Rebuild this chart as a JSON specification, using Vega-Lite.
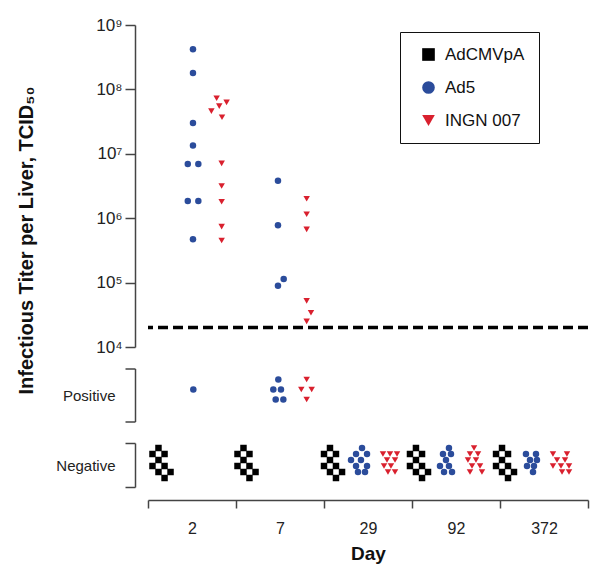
{
  "$schema": "https://vega.github.io/schema/vega-lite/v6.json",
  "padding": {"left": 15, "top": 16, "right": 6, "bottom": 5},
  "bounds": "flush",
  "spacing": 21.5,
  "config": {
    "view": {"stroke": null},
    "font": "Liberation Sans",
    "axis": {"domainColor": "#444", "domainWidth": 1.5, "tickColor": "#444", "tickWidth": 1.5, "tickSize": 10, "labelColor": "#222", "grid": false, "labelFont": "Liberation Sans", "titleFont": "Liberation Sans", "titleColor": "#111"},
    "point": {"filled": true, "size": 42, "opacity": 1, "strokeWidth": 0},
    "legend": {"strokeColor": "#111", "padding": 14, "rowPadding": 15, "symbolSize": 160, "labelFontSize": 17, "labelColor": "#111", "symbolStrokeWidth": 0, "labelOffset": 8, "symbolOffset": 6, "labelFont": "Liberation Sans"}
  },
  "datasets": {
    "titer": [
      {"day": "2", "series": "Ad5", "titer": 420000000, "xo": 0.511},
      {"day": "2", "series": "Ad5", "titer": 180000000, "xo": 0.511},
      {"day": "2", "series": "Ad5", "titer": 30000000, "xo": 0.511},
      {"day": "2", "series": "Ad5", "titer": 13400000, "xo": 0.511},
      {"day": "2", "series": "Ad5", "titer": 6950000, "xo": 0.452},
      {"day": "2", "series": "Ad5", "titer": 6950000, "xo": 0.572},
      {"day": "2", "series": "Ad5", "titer": 1850000, "xo": 0.452},
      {"day": "2", "series": "Ad5", "titer": 1850000, "xo": 0.572},
      {"day": "2", "series": "Ad5", "titer": 470000, "xo": 0.511},
      {"day": "2", "series": "INGN 007", "titer": 73000000, "xo": 0.78},
      {"day": "2", "series": "INGN 007", "titer": 63000000, "xo": 0.893},
      {"day": "2", "series": "INGN 007", "titer": 55000000, "xo": 0.81},
      {"day": "2", "series": "INGN 007", "titer": 46000000, "xo": 0.72},
      {"day": "2", "series": "INGN 007", "titer": 37000000, "xo": 0.841},
      {"day": "2", "series": "INGN 007", "titer": 7100000, "xo": 0.837},
      {"day": "2", "series": "INGN 007", "titer": 3160000, "xo": 0.837},
      {"day": "2", "series": "INGN 007", "titer": 1800000, "xo": 0.837},
      {"day": "2", "series": "INGN 007", "titer": 740000, "xo": 0.837},
      {"day": "2", "series": "INGN 007", "titer": 450000, "xo": 0.837},
      {"day": "7", "series": "Ad5", "titer": 3800000, "xo": 0.477},
      {"day": "7", "series": "Ad5", "titer": 780000, "xo": 0.477},
      {"day": "7", "series": "Ad5", "titer": 114000, "xo": 0.542},
      {"day": "7", "series": "Ad5", "titer": 89500, "xo": 0.477},
      {"day": "7", "series": "INGN 007", "titer": 2000000, "xo": 0.803},
      {"day": "7", "series": "INGN 007", "titer": 1150000, "xo": 0.803},
      {"day": "7", "series": "INGN 007", "titer": 670000, "xo": 0.803},
      {"day": "7", "series": "INGN 007", "titer": 52000, "xo": 0.803},
      {"day": "7", "series": "INGN 007", "titer": 34000, "xo": 0.852},
      {"day": "7", "series": "INGN 007", "titer": 25000, "xo": 0.803}
    ],
    "positive": [
      {"day": "2", "series": "Ad5", "status": "Positive", "xo": 0.515, "row": 1},
      {"day": "7", "series": "Ad5", "status": "Positive", "xo": 0.481, "row": 0},
      {"day": "7", "series": "Ad5", "status": "Positive", "xo": 0.424, "row": 1},
      {"day": "7", "series": "Ad5", "status": "Positive", "xo": 0.511, "row": 1},
      {"day": "7", "series": "Ad5", "status": "Positive", "xo": 0.451, "row": 2},
      {"day": "7", "series": "Ad5", "status": "Positive", "xo": 0.538, "row": 2},
      {"day": "7", "series": "INGN 007", "status": "Positive", "xo": 0.803, "row": 0},
      {"day": "7", "series": "INGN 007", "status": "Positive", "xo": 0.742, "row": 1},
      {"day": "7", "series": "INGN 007", "status": "Positive", "xo": 0.86, "row": 1},
      {"day": "7", "series": "INGN 007", "status": "Positive", "xo": 0.803, "row": 2}
    ],
    "negative": [
      {"day": "2", "series": "AdCMVpA", "status": "Negative", "xo": 0.119, "row": 0},
      {"day": "2", "series": "AdCMVpA", "status": "Negative", "xo": 0.051, "row": 1},
      {"day": "2", "series": "AdCMVpA", "status": "Negative", "xo": 0.188, "row": 1},
      {"day": "2", "series": "AdCMVpA", "status": "Negative", "xo": 0.119, "row": 2},
      {"day": "2", "series": "AdCMVpA", "status": "Negative", "xo": 0.051, "row": 3},
      {"day": "2", "series": "AdCMVpA", "status": "Negative", "xo": 0.188, "row": 3},
      {"day": "2", "series": "AdCMVpA", "status": "Negative", "xo": 0.119, "row": 4},
      {"day": "2", "series": "AdCMVpA", "status": "Negative", "xo": 0.256, "row": 4},
      {"day": "2", "series": "AdCMVpA", "status": "Negative", "xo": 0.188, "row": 5},
      {"day": "7", "series": "AdCMVpA", "status": "Negative", "xo": 0.085, "row": 0},
      {"day": "7", "series": "AdCMVpA", "status": "Negative", "xo": 0.017, "row": 1},
      {"day": "7", "series": "AdCMVpA", "status": "Negative", "xo": 0.153, "row": 1},
      {"day": "7", "series": "AdCMVpA", "status": "Negative", "xo": 0.085, "row": 2},
      {"day": "7", "series": "AdCMVpA", "status": "Negative", "xo": 0.017, "row": 3},
      {"day": "7", "series": "AdCMVpA", "status": "Negative", "xo": 0.153, "row": 3},
      {"day": "7", "series": "AdCMVpA", "status": "Negative", "xo": 0.085, "row": 4},
      {"day": "7", "series": "AdCMVpA", "status": "Negative", "xo": 0.222, "row": 4},
      {"day": "7", "series": "AdCMVpA", "status": "Negative", "xo": 0.153, "row": 5},
      {"day": "29", "series": "AdCMVpA", "status": "Negative", "xo": 0.068, "row": 0},
      {"day": "29", "series": "AdCMVpA", "status": "Negative", "xo": 0.0, "row": 1},
      {"day": "29", "series": "AdCMVpA", "status": "Negative", "xo": 0.136, "row": 1},
      {"day": "29", "series": "AdCMVpA", "status": "Negative", "xo": 0.068, "row": 2},
      {"day": "29", "series": "AdCMVpA", "status": "Negative", "xo": 0.0, "row": 3},
      {"day": "29", "series": "AdCMVpA", "status": "Negative", "xo": 0.136, "row": 3},
      {"day": "29", "series": "AdCMVpA", "status": "Negative", "xo": 0.068, "row": 4},
      {"day": "29", "series": "AdCMVpA", "status": "Negative", "xo": 0.205, "row": 4},
      {"day": "29", "series": "AdCMVpA", "status": "Negative", "xo": 0.136, "row": 5},
      {"day": "92", "series": "AdCMVpA", "status": "Negative", "xo": 0.045, "row": 0},
      {"day": "92", "series": "AdCMVpA", "status": "Negative", "xo": -0.023, "row": 1},
      {"day": "92", "series": "AdCMVpA", "status": "Negative", "xo": 0.114, "row": 1},
      {"day": "92", "series": "AdCMVpA", "status": "Negative", "xo": 0.045, "row": 2},
      {"day": "92", "series": "AdCMVpA", "status": "Negative", "xo": -0.023, "row": 3},
      {"day": "92", "series": "AdCMVpA", "status": "Negative", "xo": 0.114, "row": 3},
      {"day": "92", "series": "AdCMVpA", "status": "Negative", "xo": 0.045, "row": 4},
      {"day": "92", "series": "AdCMVpA", "status": "Negative", "xo": 0.182, "row": 4},
      {"day": "92", "series": "AdCMVpA", "status": "Negative", "xo": 0.114, "row": 5},
      {"day": "372", "series": "AdCMVpA", "status": "Negative", "xo": 0.023, "row": 0},
      {"day": "372", "series": "AdCMVpA", "status": "Negative", "xo": -0.045, "row": 1},
      {"day": "372", "series": "AdCMVpA", "status": "Negative", "xo": 0.091, "row": 1},
      {"day": "372", "series": "AdCMVpA", "status": "Negative", "xo": 0.023, "row": 2},
      {"day": "372", "series": "AdCMVpA", "status": "Negative", "xo": -0.045, "row": 3},
      {"day": "372", "series": "AdCMVpA", "status": "Negative", "xo": 0.091, "row": 3},
      {"day": "372", "series": "AdCMVpA", "status": "Negative", "xo": 0.023, "row": 4},
      {"day": "372", "series": "AdCMVpA", "status": "Negative", "xo": 0.159, "row": 4},
      {"day": "372", "series": "AdCMVpA", "status": "Negative", "xo": 0.091, "row": 5},
      {"day": "29", "series": "Ad5", "status": "Negative", "xo": 0.432, "row": 0},
      {"day": "29", "series": "Ad5", "status": "Negative", "xo": 0.364, "row": 1},
      {"day": "29", "series": "Ad5", "status": "Negative", "xo": 0.489, "row": 1},
      {"day": "29", "series": "Ad5", "status": "Negative", "xo": 0.307, "row": 2},
      {"day": "29", "series": "Ad5", "status": "Negative", "xo": 0.42, "row": 2},
      {"day": "29", "series": "Ad5", "status": "Negative", "xo": 0.364, "row": 3},
      {"day": "29", "series": "Ad5", "status": "Negative", "xo": 0.489, "row": 3},
      {"day": "29", "series": "Ad5", "status": "Negative", "xo": 0.386, "row": 4},
      {"day": "29", "series": "Ad5", "status": "Negative", "xo": 0.466, "row": 4},
      {"day": "92", "series": "Ad5", "status": "Negative", "xo": 0.42, "row": 0},
      {"day": "92", "series": "Ad5", "status": "Negative", "xo": 0.352, "row": 1},
      {"day": "92", "series": "Ad5", "status": "Negative", "xo": 0.443, "row": 1},
      {"day": "92", "series": "Ad5", "status": "Negative", "xo": 0.386, "row": 2},
      {"day": "92", "series": "Ad5", "status": "Negative", "xo": 0.318, "row": 3},
      {"day": "92", "series": "Ad5", "status": "Negative", "xo": 0.42, "row": 3},
      {"day": "92", "series": "Ad5", "status": "Negative", "xo": 0.364, "row": 4},
      {"day": "92", "series": "Ad5", "status": "Negative", "xo": 0.455, "row": 4},
      {"day": "372", "series": "Ad5", "status": "Negative", "xo": 0.295, "row": 1},
      {"day": "372", "series": "Ad5", "status": "Negative", "xo": 0.409, "row": 1},
      {"day": "372", "series": "Ad5", "status": "Negative", "xo": 0.341, "row": 2},
      {"day": "372", "series": "Ad5", "status": "Negative", "xo": 0.42, "row": 2},
      {"day": "372", "series": "Ad5", "status": "Negative", "xo": 0.307, "row": 3},
      {"day": "372", "series": "Ad5", "status": "Negative", "xo": 0.386, "row": 3},
      {"day": "372", "series": "Ad5", "status": "Negative", "xo": 0.375, "row": 4},
      {"day": "29", "series": "INGN 007", "status": "Negative", "xo": 0.67, "row": 1},
      {"day": "29", "series": "INGN 007", "status": "Negative", "xo": 0.75, "row": 1},
      {"day": "29", "series": "INGN 007", "status": "Negative", "xo": 0.83, "row": 1},
      {"day": "29", "series": "INGN 007", "status": "Negative", "xo": 0.716, "row": 2},
      {"day": "29", "series": "INGN 007", "status": "Negative", "xo": 0.807, "row": 2},
      {"day": "29", "series": "INGN 007", "status": "Negative", "xo": 0.682, "row": 3},
      {"day": "29", "series": "INGN 007", "status": "Negative", "xo": 0.761, "row": 3},
      {"day": "29", "series": "INGN 007", "status": "Negative", "xo": 0.727, "row": 4},
      {"day": "29", "series": "INGN 007", "status": "Negative", "xo": 0.807, "row": 4},
      {"day": "92", "series": "INGN 007", "status": "Negative", "xo": 0.705, "row": 0},
      {"day": "92", "series": "INGN 007", "status": "Negative", "xo": 0.659, "row": 1},
      {"day": "92", "series": "INGN 007", "status": "Negative", "xo": 0.75, "row": 1},
      {"day": "92", "series": "INGN 007", "status": "Negative", "xo": 0.636, "row": 2},
      {"day": "92", "series": "INGN 007", "status": "Negative", "xo": 0.727, "row": 2},
      {"day": "92", "series": "INGN 007", "status": "Negative", "xo": 0.682, "row": 3},
      {"day": "92", "series": "INGN 007", "status": "Negative", "xo": 0.773, "row": 3},
      {"day": "92", "series": "INGN 007", "status": "Negative", "xo": 0.659, "row": 4},
      {"day": "92", "series": "INGN 007", "status": "Negative", "xo": 0.795, "row": 4},
      {"day": "372", "series": "INGN 007", "status": "Negative", "xo": 0.602, "row": 1},
      {"day": "372", "series": "INGN 007", "status": "Negative", "xo": 0.761, "row": 1},
      {"day": "372", "series": "INGN 007", "status": "Negative", "xo": 0.648, "row": 2},
      {"day": "372", "series": "INGN 007", "status": "Negative", "xo": 0.739, "row": 2},
      {"day": "372", "series": "INGN 007", "status": "Negative", "xo": 0.602, "row": 3},
      {"day": "372", "series": "INGN 007", "status": "Negative", "xo": 0.693, "row": 3},
      {"day": "372", "series": "INGN 007", "status": "Negative", "xo": 0.784, "row": 3},
      {"day": "372", "series": "INGN 007", "status": "Negative", "xo": 0.705, "row": 4},
      {"day": "372", "series": "INGN 007", "status": "Negative", "xo": 0.784, "row": 4}
    ]
  },
  "resolve": {
    "scale": {"x": "independent", "y": "independent", "xOffset": "independent", "yOffset": "independent", "color": "independent", "shape": "independent"},
    "legend": {"color": "independent", "shape": "independent"}
  },
  "vconcat": [
    {
      "width": 440,
      "height": 322,
      "layer": [
        {
          "data": {"name": "titer"},
          "mark": "point",
          "encoding": {
            "x": {"field": "day", "type": "nominal", "sort": ["2", "7", "29", "92", "372"], "scale": {"domain": ["2", "7", "29", "92", "372"], "paddingInner": 0, "paddingOuter": 0}, "axis": null},
            "xOffset": {"field": "xo", "type": "quantitative", "scale": {"domain": [0, 1], "range": [0, 88]}},
            "y": {
              "field": "titer", "type": "quantitative",
              "scale": {"type": "log", "domain": [10000, 1000000000], "nice": false},
              "axis": {
                "title": "Infectious Titer per Liver, TCID₅₀",
                "titleFontSize": 20, "titleFontWeight": "bold", "titleX": -99, "titleY": 215,
                "values": [10000, 100000, 1000000, 10000000, 100000000, 1000000000],
                "labelExpr": "'10' + ['⁰','¹','²','³','⁴','⁵','⁶','⁷','⁸','⁹'][round(log(datum.value)/LN10)]",
                "labelFontSize": 17, "offset": 13, "labelPadding": 3
              }
            },
            "color": {"field": "series", "type": "nominal", "scale": {"domain": ["AdCMVpA", "Ad5", "INGN 007"], "range": ["#000000", "#2b4c9b", "#d9202e"]}, "legend": {"title": null, "orient": "none", "legendX": 252, "legendY": 7}},
            "shape": {"field": "series", "type": "nominal", "scale": {"domain": ["AdCMVpA", "Ad5", "INGN 007"], "range": ["square", "circle", "triangle-down"]}, "legend": {"title": null, "orient": "none", "legendX": 252, "legendY": 7}}
          }
        },
        {
          "data": {"values": [{"threshold": 20000}]},
          "mark": {"type": "rule", "strokeDash": [10, 5], "size": 3.5, "color": "#000"},
          "encoding": {"y": {"field": "threshold", "type": "quantitative"}}
        }
      ]
    },
    {
      "width": 440,
      "height": 53,
      "data": {"name": "positive"},
      "mark": "point",
      "encoding": {
        "x": {"field": "day", "type": "nominal", "sort": ["2", "7", "29", "92", "372"], "scale": {"domain": ["2", "7", "29", "92", "372"], "paddingInner": 0, "paddingOuter": 0}, "axis": null},
        "xOffset": {"field": "xo", "type": "quantitative", "scale": {"domain": [0, 1], "range": [0, 88]}},
        "y": {"field": "status", "type": "nominal", "scale": {"domain": ["Positive"], "paddingInner": 0, "paddingOuter": 0}, "axis": {"title": null, "tickBand": "extent", "offset": 13, "labelPadding": 10, "labelFontSize": 15, "labelAngle": 0}},
        "yOffset": {"field": "row", "type": "quantitative", "scale": {"domain": [-1.1, 4.2], "range": [0, 53]}},
        "color": {"field": "series", "type": "nominal", "scale": {"domain": ["AdCMVpA", "Ad5", "INGN 007"], "range": ["#000000", "#2b4c9b", "#d9202e"]}, "legend": null},
        "shape": {"field": "series", "type": "nominal", "scale": {"domain": ["AdCMVpA", "Ad5", "INGN 007"], "range": ["square", "circle", "triangle-down"]}, "legend": null}
      }
    },
    {
      "width": 440,
      "height": 44,
      "data": {"name": "negative"},
      "mark": "point",
      "encoding": {
        "x": {"field": "day", "type": "nominal", "sort": ["2", "7", "29", "92", "372"], "scale": {"domain": ["2", "7", "29", "92", "372"], "paddingInner": 0, "paddingOuter": 0},
          "axis": {"title": "Day", "titleFontSize": 19, "titleFontWeight": "bold", "labelFontSize": 16, "labelAngle": 0, "tickBand": "extent", "offset": 13, "tickSize": 8, "labelPadding": 12, "titlePadding": 8}},
        "xOffset": {"field": "xo", "type": "quantitative", "scale": {"domain": [0, 1], "range": [0, 88]}},
        "y": {"field": "status", "type": "nominal", "scale": {"domain": ["Negative"], "paddingInner": 0, "paddingOuter": 0}, "axis": {"title": null, "tickBand": "extent", "offset": 13, "labelPadding": 10, "labelFontSize": 15, "labelAngle": 0}},
        "yOffset": {"field": "row", "type": "quantitative", "scale": {"domain": [-0.833, 6.5], "range": [0, 44]}},
        "color": {"field": "series", "type": "nominal", "scale": {"domain": ["AdCMVpA", "Ad5", "INGN 007"], "range": ["#000000", "#2b4c9b", "#d9202e"]}, "legend": null},
        "shape": {"field": "series", "type": "nominal", "scale": {"domain": ["AdCMVpA", "Ad5", "INGN 007"], "range": ["square", "circle", "triangle-down"]}, "legend": null}
      }
    }
  ]
}
